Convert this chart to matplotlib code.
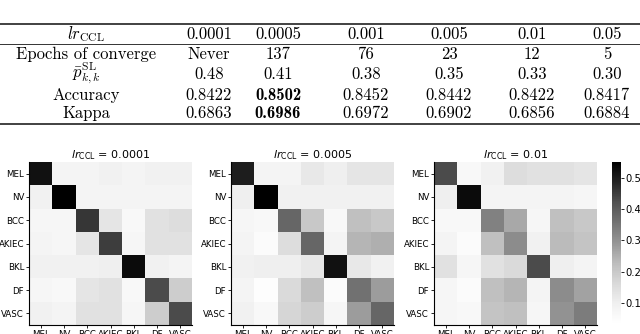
import matplotlib
matplotlib.use("Agg")
import matplotlib.pyplot as plt
import numpy as np

# table data
lr_values = ["0.0001", "0.0005", "0.001", "0.005", "0.01", "0.05"]
epochs = ["Never", "137", "76", "23", "12", "5"]
p_kk = ["0.48", "0.41", "0.38", "0.35", "0.33", "0.30"]
accuracy = ["0.8422", "0.8502", "0.8452", "0.8442", "0.8422", "0.8417"]
kappa = ["0.6863", "0.6986", "0.6972", "0.6902", "0.6856", "0.6884"]
best_col = 1

# confusion matrices
classes = ["MEL", "NV", "BCC", "AKIEC", "BKL", "DF", "VASC"]
cm_titles = ["0.0001", "0.0005", "0.01"]
cm_0001 = [
    [0.52, 0.08, 0.08, 0.09, 0.08, 0.09, 0.09],
    [0.09, 0.55, 0.08, 0.08, 0.08, 0.08, 0.08],
    [0.07, 0.07, 0.46, 0.13, 0.06, 0.14, 0.15],
    [0.08, 0.07, 0.13, 0.45, 0.07, 0.14, 0.14],
    [0.09, 0.09, 0.09, 0.10, 0.53, 0.09, 0.08],
    [0.07, 0.06, 0.13, 0.14, 0.06, 0.43, 0.19],
    [0.09, 0.08, 0.14, 0.14, 0.07, 0.19, 0.43],
]
cm_0005 = [
    [0.50, 0.08, 0.08, 0.12, 0.10, 0.13, 0.13],
    [0.10, 0.55, 0.09, 0.09, 0.09, 0.09, 0.09],
    [0.07, 0.06, 0.38, 0.20, 0.06, 0.22, 0.20],
    [0.08, 0.05, 0.15, 0.38, 0.08, 0.24, 0.25],
    [0.09, 0.10, 0.10, 0.12, 0.52, 0.12, 0.09],
    [0.08, 0.04, 0.16, 0.22, 0.05, 0.36, 0.28],
    [0.09, 0.06, 0.17, 0.19, 0.07, 0.28, 0.38],
]
cm_01 = [
    [0.43, 0.06, 0.09, 0.15, 0.14, 0.14, 0.13],
    [0.10, 0.53, 0.08, 0.08, 0.08, 0.08, 0.07],
    [0.06, 0.06, 0.33, 0.26, 0.07, 0.22, 0.20],
    [0.08, 0.05, 0.22, 0.31, 0.09, 0.23, 0.21],
    [0.14, 0.07, 0.14, 0.16, 0.43, 0.10, 0.08],
    [0.07, 0.05, 0.22, 0.24, 0.08, 0.31, 0.27],
    [0.07, 0.06, 0.21, 0.22, 0.07, 0.30, 0.34],
]
matrices = [cm_0001, cm_0005, cm_01]

fig = plt.figure(figsize=(6.4, 3.34), dpi=100)
W, H = 640, 334

def fy(y):
    return 1 - y / H

# ---- table ----
for y, lw in [(24.3, 1.3), (44.3, 0.7), (124.3, 1.3)]:
    fig.add_artist(plt.Line2D([0, 1], [fy(y), fy(y)], color="#333333", lw=lw))

col_x = [86, 209, 278, 366, 449, 532, 607]
row_y = [34.5, 54.5, 74, 95, 113.5]
fs = 12
fig.text(col_x[0] / W, fy(row_y[0]), r"$lr_{\mathrm{CCL}}$", ha="center", va="center",
         fontsize=fs, math_fontfamily="cm")
fig.text(col_x[0] / W, fy(row_y[1]), "Epochs of converge", ha="center", va="center",
         fontsize=fs, family="cmr10")
fig.text(col_x[0] / W, fy(row_y[2] - 1), r"$\bar{p}^{\mathrm{SL}}_{k,k}$", ha="center", va="center",
         fontsize=fs, math_fontfamily="cm")
fig.text(col_x[0] / W, fy(row_y[3]), "Accuracy", ha="center", va="center",
         fontsize=fs, family="cmr10")
fig.text(col_x[0] / W, fy(row_y[4]), "Kappa", ha="center", va="center",
         fontsize=fs, family="cmr10")

rows = [lr_values, epochs, p_kk, accuracy, kappa]
for r, vals in enumerate(rows):
    for c, v in enumerate(vals):
        bold = r >= 3 and c == best_col
        fig.text(col_x[c + 1] / W, fy(row_y[r]), v, ha="center", va="center",
                 fontsize=fs, family="cmb10" if bold else "cmr10")

# ---- heatmaps ----
lefts = [29, 231, 434]
ax_w = 163 / W
ax_b = fy(325)
ax_h = (325 - 162) / H
vmin, vmax = 0.033, 0.551
for i, m in enumerate(matrices):
    ax = fig.add_axes([lefts[i] / W, ax_b, ax_w, ax_h])
    im = ax.imshow(np.array(m), cmap="Greys", vmin=vmin, vmax=vmax, aspect="auto",
                   interpolation="nearest")
    ax.set_xticks(range(len(classes)))
    ax.set_yticks(range(len(classes)))
    ax.set_xticklabels(classes, fontsize=6.2)
    ax.set_yticklabels(classes, fontsize=6.2)
    ax.tick_params(length=2, width=0.6, pad=1.5)
    for s in ["top", "right"]:
        ax.spines[s].set_visible(False)
    for s in ["left", "bottom"]:
        ax.spines[s].set_linewidth(0.8)
    ax.set_title(r"$lr_{\mathsf{CCL}}$ = " + cm_titles[i], fontsize=8, pad=1.5)

cax = fig.add_axes([612 / W, fy(324), 9 / W, (324 - 162) / H])
cb = fig.colorbar(im, cax=cax)
cb.set_ticks([0.1, 0.2, 0.3, 0.4, 0.5])
cb.ax.tick_params(labelsize=7.2, length=2, width=0.6, pad=1)
cb.outline.set_visible(False)

fig.savefig("out.png", dpi=100)
